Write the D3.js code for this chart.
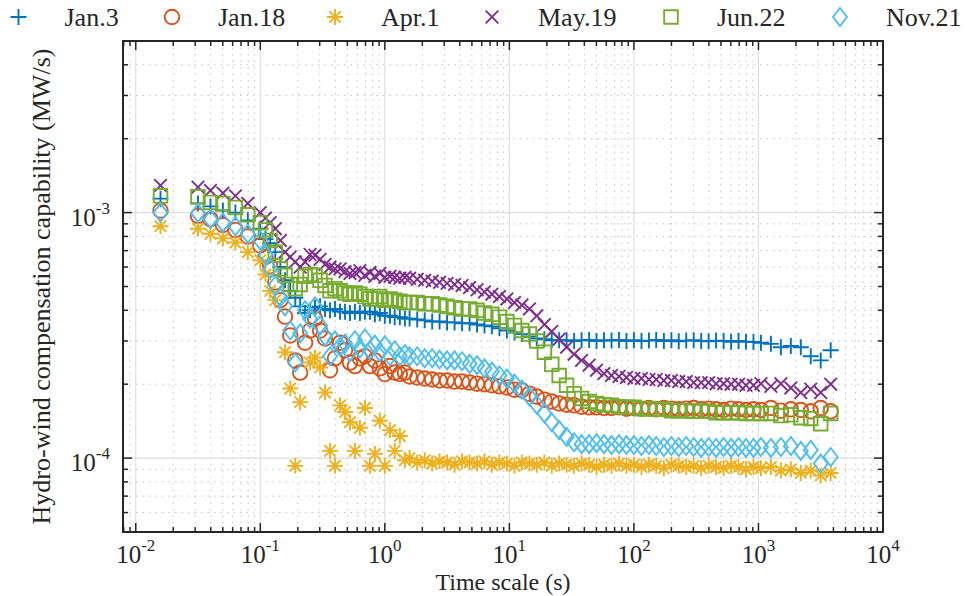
<!DOCTYPE html>
<html>
<head>
<meta charset="utf-8">
<script src="https://d3js.org/d3.v7.min.js"></script>
<style>
body { margin: 0; background: #fff; }
text { font-family: "Liberation Serif", "Times New Roman", serif; fill: #262626; }
</style>
</head>
<body>
<div id="chart"></div>
<script>
// time scale (s), shared by all series
const timeScale = [0.0158, 0.0316, 0.0398, 0.0501, 0.0631, 0.0794,
  0.100, 0.110, 0.120, 0.132, 0.145, 0.158, 0.174, 0.191, 0.209, 0.229,
  0.251, 0.275, 0.302, 0.331, 0.363, 0.398, 0.437, 0.479, 0.525, 0.575,
  0.631, 0.692, 0.759, 0.832, 0.912, 1.00, 1.10, 1.20, 1.32, 1.45, 1.58,
  1.82, 2.09, 2.40, 2.75, 3.16, 3.63, 4.17, 4.79, 5.50, 6.31,
  7.24, 8.32, 9.55, 11.0, 12.6, 14.5, 16.6, 19.1, 21.9, 25.1,
  28.8, 33.1, 38.0, 43.7, 50.1, 57.5, 66.1, 75.9, 87.1, 100,
  115, 132, 151, 174, 200, 229, 263, 302, 347, 398,
  457, 525, 603, 692, 794, 912, 1047,
  1259, 1514, 1820, 2188, 2630, 3162, 3802];

// capability values, in units of 1e-4 MW/s
const jan3 = [11.4, 10.9, 10.6, 10.2, 10.0, 9.3,
  8.6, 7.8, 7.5, 6.9, 6.0, 5.3, 4.8, 4.5, 4.15, 3.9,
  4.0, 4.1, 4.15, 4.05, 4.0, 4.05, 3.95, 3.95, 3.9, 3.95,
  3.9, 3.95, 3.95, 3.85, 3.9, 3.8, 3.8, 3.75, 3.75, 3.7, 3.7,
  3.67, 3.64, 3.6, 3.6, 3.57, 3.57, 3.54, 3.54, 3.5, 3.47,
  3.44, 3.38, 3.31, 3.25, 3.2, 3.13, 3.07, 3.05, 3.02, 3.02,
  3.02, 3.0, 3.02, 3.03, 3.0, 3.02, 3.01, 3.03, 3.0, 3.02,
  3.0, 3.01, 3.03, 3.0, 3.02, 2.99, 3.01, 3.02, 3.0, 2.99,
  3.01, 3.0, 2.98, 3.0, 2.98, 2.97, 2.95,
  2.92, 2.83, 2.86, 2.83, 2.6, 2.5, 2.75];
const jan18 = [10.2, 9.7, 9.4, 8.9, 8.5, 8.0,
  7.35, 6.6, 6.05, 5.2, 4.4, 3.77, 3.16, 2.5, 2.23, 2.95,
  3.31, 3.7, 3.31, 3.07, 2.28, 2.55, 2.95, 2.75, 2.45, 2.37,
  2.55, 2.6, 2.37, 2.5, 2.32, 2.2, 2.37, 2.23, 2.2, 2.23, 2.15,
  2.13, 2.11, 2.09, 2.07, 2.07, 2.05, 2.05, 2.03, 2.01, 2.0,
  1.98, 1.96, 1.94, 1.9, 1.89, 1.83, 1.78, 1.73, 1.7, 1.67,
  1.65, 1.64, 1.62, 1.61, 1.61, 1.6, 1.6, 1.61, 1.59, 1.6,
  1.59, 1.6, 1.58, 1.6, 1.59, 1.58, 1.59, 1.6, 1.58, 1.59,
  1.58, 1.57, 1.59, 1.58, 1.57, 1.58, 1.57,
  1.6, 1.56, 1.58, 1.57, 1.55, 1.6, 1.55];
const apr1 = [8.8, 8.6, 8.2, 7.85, 7.55, 6.9,
  6.4, 5.6, 4.8, 4.4, null, 2.7, 1.92, 0.93, 1.69, null,
  2.45, 2.57, 2.34, 1.85, 1.07, 0.93, 1.64, 1.54, 1.4, 1.07,
  1.33, 1.6, 0.93, 1.04, 1.42, 0.93, 1.3, 1.07, 1.23, 0.98, 1.0,
  0.96, 0.98, 0.95, 0.97, 0.96, 0.94, 0.97, 0.96, 0.95, 0.97,
  0.94, 0.96, 0.95, 0.93, 0.96, 0.95, 0.94, 0.96, 0.93, 0.95,
  0.94, 0.93, 0.95, 0.94, 0.92, 0.94, 0.93, 0.95, 0.93, 0.94,
  0.92, 0.94, 0.93, 0.91, 0.94, 0.93, 0.92, 0.93, 0.91, 0.93,
  0.92, 0.91, 0.93, 0.92, 0.9, 0.92, 0.91,
  0.92, 0.89, 0.9, 0.87, 0.89, 0.85, 0.87];
const may19 = [12.9, 12.7, 12.3, 12.0, 11.7, 10.9,
  10.0, 9.5, 9.1, 8.6, 7.7, 6.9, 6.6, 6.3, 6.0, 6.3,
  6.75, 6.7, 6.45, 6.15, 6.0, 5.9, 5.9, 5.75, 5.65, 5.7,
  5.8, 5.55, 5.7, 5.5, 5.65, 5.45, 5.5, 5.45, 5.4, 5.45, 5.4,
  5.35, 5.3, 5.25, 5.2, 5.15, 5.1, 5.05, 4.95, 4.85, 4.75,
  4.65, 4.55, 4.45, 4.3, 4.2, 4.05, 3.8, 3.5, 3.28, 3.05,
  2.83, 2.65, 2.5, 2.39, 2.28, 2.21, 2.17, 2.15, 2.13, 2.11,
  2.11, 2.09, 2.09, 2.07, 2.07, 2.05, 2.05, 2.03, 2.03, 2.03,
  2.01, 2.01, 2.0, 2.0, 1.98, 1.98, 2.01,
  1.96, 2.01, 1.93, 1.85, 1.91, 1.85, 2.0];
const jun22 = [11.7, 11.6, 11.0, 10.9, 10.5, 9.8,
  9.1, 8.5, 7.7, 6.9, 5.9, 5.55, 5.1, 4.9, 5.1, 5.5,
  5.6, 5.55, 5.3, 5.05, 4.8, 4.9, 4.8, 4.7, 4.65, 4.7,
  4.65, 4.55, 4.45, 4.45, 4.55, 4.4, 4.45, 4.4, 4.35, 4.3, 4.3,
  4.3, 4.25, 4.25, 4.2, 4.15, 4.1, 4.05, 4.05, 4.0, 3.9,
  3.85, 3.75, 3.6, 3.47, 3.31, 3.2, 3.0, 2.7, 2.41, 2.17,
  1.98, 1.83, 1.75, 1.7, 1.67, 1.65, 1.64, 1.62, 1.61, 1.61,
  1.59, 1.59, 1.58, 1.58, 1.56, 1.56, 1.56, 1.55, 1.55, 1.55,
  1.53, 1.53, 1.53, 1.53, 1.52, 1.52, 1.52,
  1.52, 1.49, 1.5, 1.46, 1.45, 1.38, 1.52];
const nov21 = [10.0, 9.95, 9.4, 9.1, 8.8, 8.2,
  7.7, 6.75, 5.9, 5.05, 4.5, 4.15, 3.31, 2.45, 3.22, 4.0,
  3.7, 4.15, 3.47, 3.13, 2.6, 3.02, 2.85, 2.93, 2.7, 3.02,
  2.8, 3.07, 2.75, 2.9, 2.7, 2.88, 2.6, 2.75, 2.6, 2.65, 2.6,
  2.6, 2.55, 2.55, 2.52, 2.5, 2.5, 2.48, 2.42, 2.39, 2.32,
  2.25, 2.17, 2.11, 2.01, 1.9, 1.78, 1.65, 1.52, 1.4, 1.3,
  1.22, 1.16, 1.14, 1.14, 1.15, 1.14, 1.13, 1.14, 1.13, 1.13,
  1.12, 1.13, 1.12, 1.11, 1.12, 1.11, 1.12, 1.11, 1.1, 1.11,
  1.1, 1.11, 1.1, 1.11, 1.1, 1.1, 1.11,
  1.1, 1.11, 1.12, 1.07, 1.08, 0.95, 1.01];

const seriesNames = ["Jan.3", "Jan.18", "Apr.1", "May.19", "Jun.22", "Nov.21"];
const seriesValues = [jan3, jan18, apr1, may19, jun22, nov21];
const xTickExps = [-2, -1, 0, 1, 2, 3, 4];
const yTickExps = [-4, -3];

const colors = ["#0072BD", "#D95319", "#EDB120", "#7E2F8E", "#77AC30", "#4DBEEE"];
const markers = [
  "M-8,0H8M0,-8V8",
  "M7.3,0A7.3,7.3 0 1,1 -7.3,0A7.3,7.3 0 1,1 7.3,0Z",
  "M-8,0H8M0,-8V8M-5.7,-5.7L5.7,5.7M-5.7,5.7L5.7,-5.7",
  "M-6.3,-6.3L6.3,6.3M-6.3,6.3L6.3,-6.3",
  "M-6.8,-6.8H6.8V6.8H-6.8Z",
  "M0,-9L7,0L0,9L-7,0Z"
];
// legend marker centres (x, px)
const legendX = [18.5, 172, 335, 492, 671, 840];

const W = 965, H = 596;
const L = 123, R = 883, T = 41, B = 532;
const axisColor = "#262626";

const svg = d3.select("#chart").append("svg")
  .attr("width", W).attr("height", H);

const x = d3.scaleLog().domain([0.0079, 1e4]).range([L, R]);
const y = d3.scaleLog().domain([5e-5, 5e-3]).range([B, T]);

// minor tick values
let xMinor = [], yMinor = [];
for (let k = -3; k <= 3; k++)
  for (let m = 2; m <= 9; m++) {
    let v = m * Math.pow(10, k);
    if (v > x.domain()[0] && v < x.domain()[1]) xMinor.push(v);
  }
for (let k = -5; k <= -3; k++)
  for (let m = 2; m <= 9; m++) {
    let v = m * Math.pow(10, k);
    if (v > y.domain()[0] && v < y.domain()[1]) yMinor.push(v);
  }
const xMajor = xTickExps.map(e => Math.pow(10, e));
const yMajor = yTickExps.map(e => Math.pow(10, e));

/* Grid */
const grid = svg.append("g");
grid.selectAll(".xm").data(xMinor).enter().append("line")
  .attr("x1", d => x(d)).attr("x2", d => x(d)).attr("y1", T).attr("y2", B)
  .attr("stroke", "#c4c4c4").attr("stroke-width", 1).attr("stroke-dasharray", "1.5,5");
grid.selectAll(".ym").data(yMinor).enter().append("line")
  .attr("y1", d => y(d)).attr("y2", d => y(d)).attr("x1", L).attr("x2", R)
  .attr("stroke", "#c4c4c4").attr("stroke-width", 1).attr("stroke-dasharray", "1.5,5");
grid.selectAll(".xM").data(xMajor).enter().append("line")
  .attr("x1", d => x(d)).attr("x2", d => x(d)).attr("y1", T).attr("y2", B)
  .attr("stroke", "#dedede").attr("stroke-width", 1.2);
grid.selectAll(".yM").data(yMajor).enter().append("line")
  .attr("y1", d => y(d)).attr("y2", d => y(d)).attr("x1", L).attr("x2", R)
  .attr("stroke", "#dedede").attr("stroke-width", 1.2);

/* Series markers */
seriesValues.forEach(function(vals, s) {
  let pts = [];
  for (let i = 0; i < timeScale.length; i++)
    if (vals[i] != null) pts.push({t: timeScale[i], v: vals[i] * 1e-4});
  svg.append("g").selectAll("path").data(pts).enter().append("path")
    .attr("d", markers[s])
    .attr("transform", d => "translate(" + x(d.t) + "," + y(d.v) + ")")
    .attr("fill", "none")
    .attr("stroke", colors[s])
    .attr("stroke-width", 1.9);
});

/* Axes box and ticks */
const ax = svg.append("g").attr("stroke", axisColor);
ax.append("rect").attr("x", L).attr("y", T).attr("width", R - L).attr("height", B - T)
  .attr("fill", "none").attr("stroke-width", 2);
function xTicks(vals, len) {
  vals.forEach(v => {
    ax.append("line").attr("x1", x(v)).attr("x2", x(v)).attr("y1", B).attr("y2", B - len).attr("stroke-width", 1.5);
    ax.append("line").attr("x1", x(v)).attr("x2", x(v)).attr("y1", T).attr("y2", T + len).attr("stroke-width", 1.5);
  });
}
function yTicks(vals, len) {
  vals.forEach(v => {
    ax.append("line").attr("y1", y(v)).attr("y2", y(v)).attr("x1", L).attr("x2", L + len).attr("stroke-width", 1.5);
    ax.append("line").attr("y1", y(v)).attr("y2", y(v)).attr("x1", R).attr("x2", R - len).attr("stroke-width", 1.5);
  });
}
xTicks(xMajor, 9); xTicks(xMinor, 5);
yTicks(yMajor, 9); yTicks(yMinor, 5);

/* Tick labels */
xTickExps.forEach(e => {
  let t = svg.append("text").attr("x", x(Math.pow(10, e))).attr("y", B + 31)
    .attr("text-anchor", "middle").attr("font-size", "25px");
  t.append("tspan").text("10");
  t.append("tspan").attr("dy", -12).attr("font-size", "17px").text(e);
});
yTickExps.forEach(e => {
  let t = svg.append("text").attr("x", L - 13).attr("y", y(Math.pow(10, e)) + 13)
    .attr("text-anchor", "end").attr("font-size", "25px");
  t.append("tspan").text("10");
  t.append("tspan").attr("dy", -12).attr("font-size", "17px").text(e);
});

/* Axis labels */
svg.append("text").attr("x", (L + R) / 2).attr("y", 590)
  .attr("text-anchor", "middle").attr("font-size", "24px").text("Time scale (s)");
svg.append("text")
  .attr("transform", "translate(50," + (T + B) / 2 + ") rotate(-90)")
  .attr("text-anchor", "middle").attr("font-size", "26px")
  .text("Hydro-wind compensation capability (MW/s)");

/* Legend */
const leg = svg.append("g");
seriesNames.forEach(function(name, s) {
  leg.append("path").attr("d", markers[s])
    .attr("transform", "translate(" + legendX[s] + ",17)")
    .attr("fill", "none").attr("stroke", colors[s]).attr("stroke-width", 1.9);
  leg.append("text").attr("x", legendX[s] + 46).attr("y", 26)
    .attr("font-size", "26px").text(name);
});
</script>
</body>
</html>
